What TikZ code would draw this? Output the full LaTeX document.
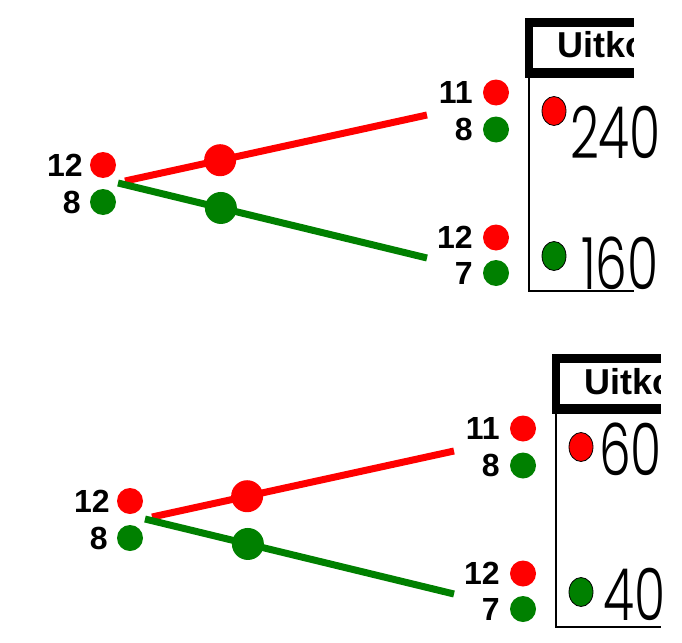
\documentclass[tikz,border=0pt]{standalone}
\usepackage{fontspec}
\setmainfont{Liberation Sans}
\newfontfamily\handfont{Poppins Light}
\usetikzlibrary{shapes.geometric}
\definecolor{dotred}{RGB}{255,0,0}
\definecolor{dotgreen}{RGB}{0,128,0}
\begin{document}
\begin{tikzpicture}[x=1pt,y=-1pt,
  dot/.style={circle,inner sep=0pt,minimum size=26pt},
  rdot/.style={dot,fill=dotred},
  gdot/.style={dot,fill=dotgreen},
  bigdot/.style={circle,inner sep=0pt,minimum size=32pt},
  num/.style={font=\fontsize{32}{32}\selectfont\bfseries,inner sep=0pt,anchor=east},
  branch/.style={line width=7pt},
  smalldot/.style={ellipse,draw=black,line width=0.8pt,inner sep=0pt,minimum width=24pt,minimum height=29pt},
  hand/.style={font=\fontsize{72}{72}\handfont,inner sep=0pt,anchor=base west,xscale=0.7},
  headtext/.style={font=\fontsize{36}{36}\selectfont\bfseries,inner sep=0pt,anchor=base west}
]
\useasboundingbox (0,0) rectangle (682,642);
\foreach \p/\dx/\dy/\ta/\tax/\tay/\tb/\tbx/\tby in
  {a/0/0/240/570/158/160/581/289, b/27/336/60/572/139/40/576/284}{
\begin{scope}[shift={(\dx,\dy)}]
  % left pair
  \node[rdot] (\p-l1) at (103,165) {};
  \node[gdot] (\p-l2) at (103,202) {};
  \node[num] (\p-n1) at ([xshift=-7pt]\p-l1.west) {12};
  \node[num] (\p-n2) at ([xshift=-9pt]\p-l2.west) {8};
  % branches
  \coordinate (\p-jr) at (125,181);
  \coordinate (\p-er) at (427,115);
  \coordinate (\p-jg) at (118,183);
  \coordinate (\p-eg) at (427,258);
  \draw[branch,dotred] (\p-jr) -- (\p-er) node[bigdot,fill=dotred,pos=0.315] (\p-br) {};
  \draw[branch,dotgreen] (\p-jg) -- (\p-eg) node[bigdot,fill=dotgreen,pos=0.333] (\p-bg) {};
  % right pairs
  \node[rdot] (\p-r1) at (496,92.5) {};
  \node[gdot] (\p-r2) at (496,129.5) {};
  \node[rdot] (\p-r3) at (496,237.5) {};
  \node[gdot] (\p-r4) at (496,273) {};
  \node[num] (\p-m1) at ([xshift=-10pt]\p-r1.west) {11};
  \node[num] (\p-m2) at ([xshift=-10pt]\p-r2.west) {8};
  \node[num] (\p-m3) at ([xshift=-10pt]\p-r3.west) {12};
  \node[num] (\p-m4) at ([xshift=-10pt]\p-r4.west) {7};
  % box
  \fill[black] (525,18) rectangle (633.5,27);
  \fill[black] (525,18) rectangle (533,78);
  \fill[black] (525,68) rectangle (633.5,78);
  \draw[line width=2.5pt] (529,78) -- (529,291) -- (633.5,291);
  \begin{scope}
    \clip (533,27) rectangle (633.5,68);
    \node[headtext] (\p-head) at (557,58) {Uitko};
  \end{scope}
  % handwritten entries
  \node[smalldot,fill=dotred] (\p-s1) at (554,111) {};
  \node[smalldot,fill=dotgreen] (\p-s2) at (554,256) {};
  \node[hand] (\p-t1) at (\tax,\tay) {\ta};
  \node[hand] (\p-t2) at (\tbx,\tby) {\tb};
\end{scope}
}
\end{tikzpicture}
\end{document}
